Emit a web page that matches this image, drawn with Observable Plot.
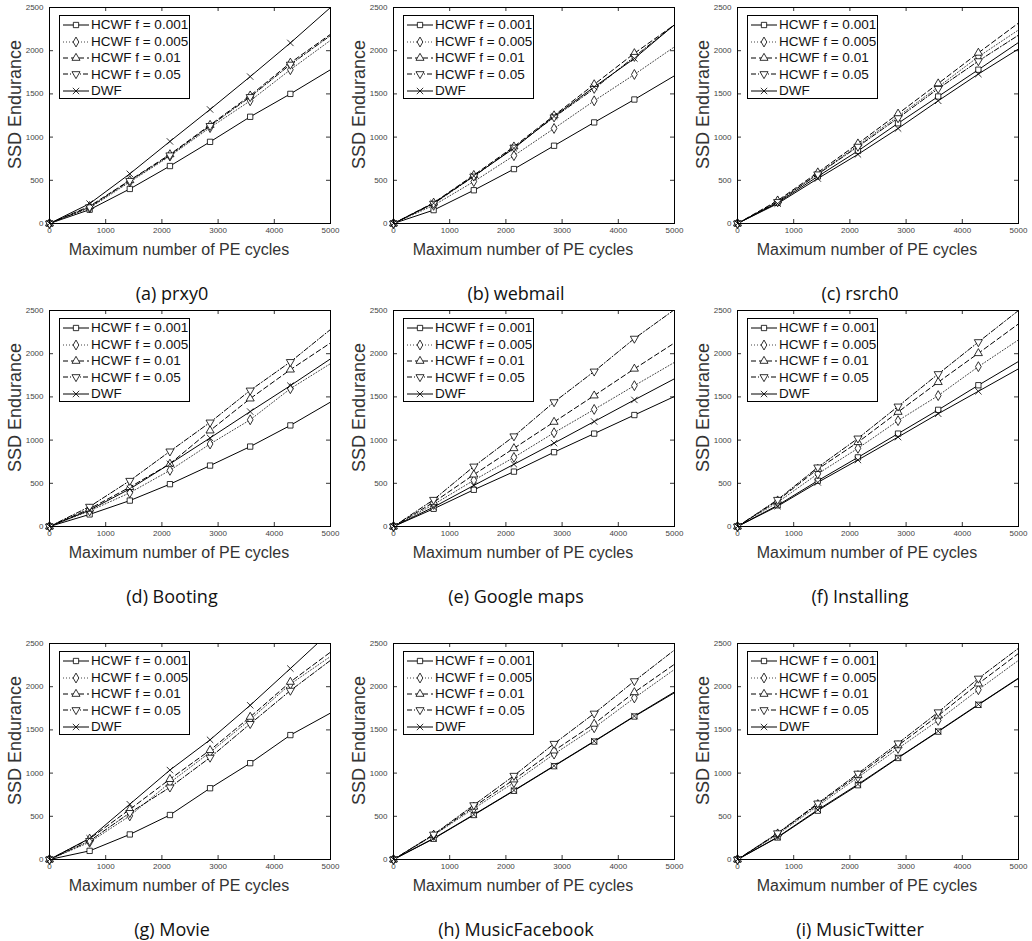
<!DOCTYPE html>
<html>
<head>
<meta charset="utf-8">
<script src="https://cdn.jsdelivr.net/npm/d3@7"></script>
<script src="https://cdn.jsdelivr.net/npm/@observablehq/plot@0.6"></script>
<style>
  body { margin: 0; background: #fff; }
  #root { position: relative; width: 1032px; height: 941px; background: #fff; overflow: hidden;
          font-family: "Liberation Sans", Arial, sans-serif; }
  .panel { position: absolute; width: 344px; height: 310px; }
  .panel svg { display: block; }
  .legend { position: absolute; left: 59px; top: 15px; width: 131px; height: 84px; box-sizing: border-box;
            border: 1px solid #000; background: #fff; padding-top: 1px; }
  .legend .row { display: flex; align-items: center; height: 16.4px; }
  .legend .row svg { margin-left: 2px; flex: none; }
  .legend .row span { font-size: 13.5px; color: #111; margin-left: 1px; white-space: nowrap; line-height: 1; }
  .caption { position: absolute; left: 0; width: 344px; text-align: center; height: 24px; line-height: 24px;
             font-family: "Open Sans", sans-serif; font-size: 18px; color: #111; }
</style>
</head>
<body>
<div id="root"></div>
<script>
// ---------- data ----------
const cycles = [0, 714, 1429, 2143, 2857, 3571, 4286, 5000];
const seriesNames = ["HCWF f = 0.001", "HCWF f = 0.005", "HCWF f = 0.01", "HCWF f = 0.05", "DWF"];
const xTicks = [0, 1000, 2000, 3000, 4000, 5000];
const yTicks = [0, 500, 1000, 1500, 2000, 2500];
const xLabel = "Maximum number of PE cycles";
const yLabel = "SSD Endurance";
const captions = ["(a) prxy0", "(b) webmail", "(c) rsrch0", "(d) Booting", "(e) Google maps",
                  "(f) Installing", "(g) Movie", "(h) MusicFacebook", "(i) MusicTwitter"];

// rows follow seriesNames order
const prxy0 = [
  [0, 160, 400, 665, 945, 1235, 1500, 1780],
  [0, 180, 480, 780, 1110, 1420, 1780, 2120],
  [0, 200, 500, 800, 1140, 1480, 1860, 2190],
  [0, 190, 495, 790, 1130, 1465, 1840, 2175],
  [0, 230, 575, 950, 1320, 1700, 2090, 2500]
];
const webmail = [
  [0, 155, 385, 630, 900, 1170, 1435, 1710],
  [0, 210, 485, 785, 1100, 1420, 1725, 2045],
  [0, 240, 560, 890, 1250, 1610, 1970, 2300],
  [0, 230, 545, 880, 1230, 1560, 1930, 2300],
  [0, 235, 550, 870, 1240, 1580, 1910, 2300]
];
const rsrch0 = [
  [0, 240, 545, 840, 1160, 1470, 1780, 2095],
  [0, 255, 575, 905, 1240, 1580, 1930, 2240],
  [0, 265, 590, 925, 1270, 1620, 1975, 2320],
  [0, 250, 570, 890, 1220, 1560, 1880, 2180],
  [0, 230, 520, 800, 1100, 1420, 1730, 2020]
];
const booting = [
  [0, 140, 300, 490, 705, 925, 1170, 1440],
  [0, 180, 390, 650, 955, 1235, 1595, 1885],
  [0, 205, 455, 725, 1110, 1480, 1815, 2125],
  [0, 230, 530, 870, 1205, 1575, 1905, 2280],
  [0, 190, 435, 725, 1025, 1330, 1630, 1940]
];
const googleMaps = [
  [0, 205, 425, 635, 860, 1075, 1290, 1505],
  [0, 255, 535, 800, 1085, 1355, 1630, 1900],
  [0, 280, 600, 905, 1210, 1515, 1825, 2125],
  [0, 310, 695, 1045, 1440, 1795, 2175, 2510],
  [0, 225, 475, 720, 965, 1215, 1465, 1710]
];
const installing = [
  [0, 245, 530, 800, 1075, 1350, 1635, 1910],
  [0, 280, 610, 905, 1225, 1515, 1850, 2160],
  [0, 300, 665, 975, 1325, 1670, 2005, 2345],
  [0, 310, 685, 1020, 1390, 1765, 2135, 2500],
  [0, 235, 510, 770, 1035, 1305, 1565, 1825]
];
const movie = [
  [0, 100, 290, 515, 825, 1115, 1440, 1695],
  [0, 200, 505, 890, 1240, 1620, 2030, 2350],
  [0, 240, 580, 930, 1265, 1650, 2055, 2400],
  [0, 215, 540, 835, 1180, 1570, 1955, 2305],
  [0, 245, 640, 1035, 1385, 1785, 2210, 2640]
];
const musicFacebook = [
  [0, 240, 515, 795, 1080, 1365, 1655, 1930],
  [0, 280, 590, 890, 1220, 1525, 1870, 2200],
  [0, 285, 610, 925, 1260, 1570, 1935, 2260],
  [0, 290, 630, 970, 1340, 1690, 2065, 2425],
  [0, 245, 520, 800, 1085, 1370, 1660, 1940]
];
const musicTwitter = [
  [0, 255, 565, 860, 1175, 1480, 1790, 2095],
  [0, 290, 620, 950, 1285, 1610, 1965, 2305],
  [0, 300, 640, 975, 1320, 1665, 2035, 2385],
  [0, 305, 650, 995, 1345, 1705, 2095, 2445],
  [0, 260, 575, 870, 1180, 1485, 1795, 2100]
];
const panelValues = [prxy0, webmail, rsrch0, booting, googleMaps, installing, movie, musicFacebook, musicTwitter];

// ---------- styles ----------
const symbolTriangleDown = {
  draw(context, size) {
    const y = -Math.sqrt(size / (Math.sqrt(3) * 3));
    context.moveTo(0, -y * 2);
    context.lineTo(-Math.sqrt(3) * y, y);
    context.lineTo(Math.sqrt(3) * y, y);
    context.closePath();
  }
};
const seriesStyle = [
  {dash: null, stroke: "#000", symbol: d3.symbolSquare},
  {dash: "1,2", stroke: "#444", symbol: d3.symbolDiamond},
  {dash: "5,3", stroke: "#000", symbol: d3.symbolTriangle},
  {dash: "5,2,1,2", stroke: "#000", symbol: symbolTriangleDown},
  {dash: null, stroke: "#000", symbol: d3.symbolX}
];

const W = 344, mL = 49, mR = 14, mT = 7, mB = 40, H = 263;
const fw = W - mL - mR, fh = H - mT - mB;
const rowTops = [0, 303, 636];
const root = document.getElementById("root");

panelValues.forEach((vals, p) => {
  const col = p % 3, row = Math.floor(p / 3);
  const data = [];
  vals.forEach((ys, s) => ys.forEach((y, i) => data.push({series: seriesNames[s], s, x: cycles[i], y})));

  const marks = [
    Plot.gridX(xTicks, {stroke: "#000", strokeOpacity: 1, strokeWidth: 0.8, insetTop: fh - 4}),
    Plot.gridX(xTicks, {stroke: "#000", strokeOpacity: 1, strokeWidth: 0.8, insetBottom: fh - 4}),
    Plot.gridY(yTicks, {stroke: "#000", strokeOpacity: 1, strokeWidth: 0.8, insetRight: fw - 4}),
    Plot.gridY(yTicks, {stroke: "#000", strokeOpacity: 1, strokeWidth: 0.8, insetLeft: fw - 4}),
    Plot.axisX(xTicks, {tickSize: 0, tickPadding: 4, fontSize: 8, fill: "#444", label: null, tickFormat: d => String(d)}),
    Plot.axisY(yTicks, {tickSize: 0, tickPadding: 6, fontSize: 8, fill: "#444", label: null, tickFormat: d => String(d)})
  ];
  seriesStyle.forEach((st, s) => {
    const d = data.filter(r => r.s === s);
    marks.push(Plot.line(d, {x: "x", y: "y", stroke: st.stroke, strokeWidth: 1,
      strokeDasharray: st.dash || undefined, clip: true}));
  });
  seriesStyle.forEach((st, s) => {
    const d = data.filter(r => r.s === s && r.x < 5000);
    marks.push(Plot.dot(d, {x: "x", y: "y", symbol: st.symbol, r: 3, fill: "#fff",
      stroke: "#000", strokeWidth: 0.8}));
  });
  marks.push(Plot.frame({stroke: "#000", strokeWidth: 1}));
  marks.push(Plot.text([xLabel], {text: d => d, frameAnchor: "bottom", lineAnchor: "middle", textAnchor: "middle",
    dy: 26, dx: -11, fontSize: 16, fill: "#333"}));
  marks.push(Plot.text([yLabel], {text: d => d, frameAnchor: "left", textAnchor: "middle", lineAnchor: "middle",
    rotate: -90, dx: -34, dy: -11, fontSize: 18, fill: "#333"}));

  const chart = Plot.plot({
    width: W, height: H,
    marginLeft: mL, marginRight: mR, marginTop: mT, marginBottom: mB,
    x: {domain: [0, 5000], axis: null},
    y: {domain: [0, 2500], axis: null},
    style: {fontFamily: "Liberation Sans, Arial, sans-serif", background: "transparent", overflow: "visible"},
    marks
  });

  const panel = document.createElement("div");
  panel.className = "panel";
  panel.style.left = (col * 344) + "px";
  panel.style.top = rowTops[row] + "px";
  panel.appendChild(chart);

  // legend (inside the frame, top-left)
  const legend = document.createElement("div");
  legend.className = "legend";
  seriesNames.forEach((name, s) => {
    const st = seriesStyle[s];
    const r = document.createElement("div");
    r.className = "row";
    const sw = d3.create("svg").attr("width", 28).attr("height", 12);
    sw.append("line").attr("x1", 1).attr("x2", 27).attr("y1", 6).attr("y2", 6)
      .attr("stroke", st.stroke).attr("stroke-width", 1)
      .attr("stroke-dasharray", st.dash);
    sw.append("path").attr("transform", "translate(14,6)")
      .attr("d", d3.symbol(st.symbol, 28)())
      .attr("fill", "#fff").attr("stroke", "#000").attr("stroke-width", 0.8);
    r.appendChild(sw.node());
    const t = document.createElement("span");
    t.textContent = name;
    r.appendChild(t);
    legend.appendChild(r);
  });
  panel.appendChild(legend);

  const cap = document.createElement("div");
  cap.className = "caption";
  cap.style.top = (mT + 286 - 12) + "px";
  cap.textContent = captions[p];
  panel.appendChild(cap);

  root.appendChild(panel);
});
</script>
</body>
</html>
